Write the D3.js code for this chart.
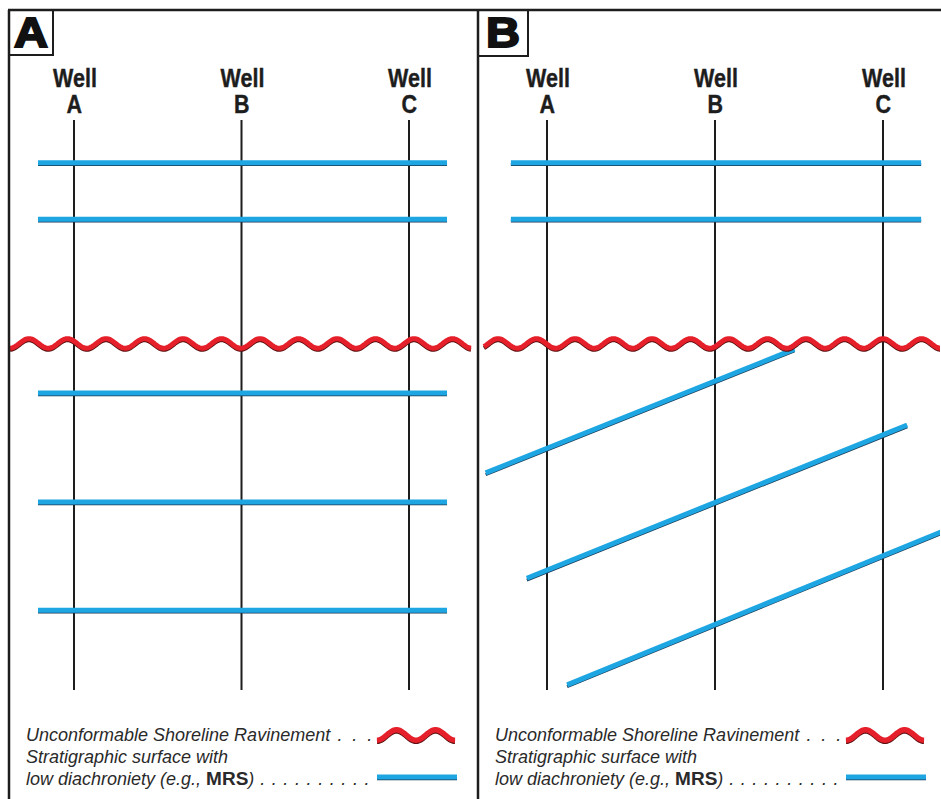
<!DOCTYPE html>
<html>
<head>
<meta charset="utf-8">
<script src="https://cdn.jsdelivr.net/npm/d3@7"></script>
<style>
  html, body { margin: 0; padding: 0; background: #fff; }
  svg { display: block; }
</style>
</head>
<body>
<div id="chart"></div>
<script>
// wells along the section (distance in arbitrary units)
const wells = ["A", "B", "C"];
const wellDistance = [0, 1, 2];
const wellDepthRange = [0, 100];

// panel A: all surfaces flat (depth units)
const flatSurfacesA = [7.5, 17.4, 47.9, 67.0, 86.0];
// panel B: flat surfaces above the unconformity
const flatSurfacesB = [7.5, 17.4];
const surfaceExtent = [-0.215, 2.227];
const unconformityDepth = 39.2;

// panel B: diachronous surfaces below the unconformity [x, depth]
const diachronousSurfaces = [
  [[-0.365, 61.9], [1.473, 40.2]],
  [[-0.12, 80.4], [2.144, 53.5]],
  [[0.12, 99.1], [2.36, 72.1]],
];

const panelLetters = ["A", "B"];
const legendLines = [
  "Unconformable Shoreline Ravinement",
  "Stratigraphic surface with",
  "low diachroniety (e.g., ",
];

const config = {
  width: 941,
  height: 799,
  panelLeft: [9, 478],
  wellRange: [[74, 409], [547, 883]],
  yRange: [120, 690],
  top: 10,
  blue: "#1ea6e2",
  red: "#e5202b",
  ink: "#1d1d1d",
};

const { width, height } = config;

const svg = d3.select("#chart")
  .append("svg")
  .attr("width", width)
  .attr("height", height);

const yScale = d3.scaleLinear().domain(wellDepthRange).range(config.yRange);

// wavy path generator (style only)
function wavePath(x0, x1, yc, amp, wavelength, crestX) {
  const pts = [];
  for (let x = x0; x <= x1; x += 1) {
    pts.push([x, yc - amp * Math.cos((2 * Math.PI * (x - crestX)) / wavelength)]);
  }
  return d3.line()(pts);
}

function blueLine(g, x1, y1, x2, y2) {
  g.append("line")
    .attr("x1", x1).attr("y1", y1 + 1.8).attr("x2", x2).attr("y2", y2 + 1.8)
    .attr("stroke", "#1a3a55").attr("stroke-width", 3);
  g.append("line")
    .attr("x1", x1).attr("y1", y1).attr("x2", x2).attr("y2", y2)
    .attr("stroke", config.blue).attr("stroke-width", 5);
}

function redWave(g, d, w = 5) {
  g.append("path").attr("d", d).attr("transform", "translate(0,1.6)")
    .attr("fill", "none").attr("stroke", "#5a1010").attr("stroke-width", w - 1);
  g.append("path").attr("d", d)
    .attr("fill", "none").attr("stroke", config.red).attr("stroke-width", w);
}

panelLetters.forEach((letter, i) => {
  const left = config.panelLeft[i];
  const right = i === 0 ? config.panelLeft[1] : width;
  const xScale = d3.scaleLinear().domain([0, 2]).range(config.wellRange[i]);

  svg.append("clipPath").attr("id", `clip${letter}`)
    .append("rect")
    .attr("x", left + 1).attr("y", config.top)
    .attr("width", right - left - 2).attr("height", height - config.top);

  const g = svg.append("g").attr("clip-path", `url(#clip${letter})`);

  // wells
  wells.forEach((w, j) => {
    const x = xScale(wellDistance[j]);
    g.append("line")
      .attr("x1", x).attr("x2", x)
      .attr("y1", yScale(wellDepthRange[0])).attr("y2", yScale(wellDepthRange[1]))
      .attr("stroke", config.ink).attr("stroke-width", 2);

    const lbl = svg.append("g").attr("transform", `translate(${x + 1},0) scale(0.86,1)`)
      .attr("font-family", "Liberation Sans, Arial, sans-serif")
      .attr("font-weight", "bold").attr("font-size", 25)
      .attr("text-anchor", "middle")
      .attr("fill", config.ink)
      .attr("stroke", config.ink).attr("stroke-width", 0.4);
    lbl.append("text").attr("x", 0).attr("y", 87).text("Well");
    lbl.append("text").attr("x", -1).attr("y", 113).text(w);
  });

  // flat surfaces
  const flats = i === 0 ? flatSurfacesA : flatSurfacesB;
  flats.forEach((d) => {
    blueLine(g, xScale(surfaceExtent[0]), yScale(d), xScale(surfaceExtent[1]), yScale(d));
  });

  // diachronous surfaces (panel B)
  if (i === 1) {
    diachronousSurfaces.forEach(([p1, p2]) => {
      blueLine(g, xScale(p1[0]), yScale(p1[1]), xScale(p2[0]), yScale(p2[1]));
    });
  }

  // unconformity
  const waveStart = i === 0 ? left + 1 : left + 6;
  const waveEnd = i === 0 ? right - 7 : width;
  redWave(g, wavePath(waveStart, waveEnd, yScale(unconformityDepth), 4.8, 38.5, left + 20));

  // legend
  const lx = left + 17;
  const legend = svg.append("g")
    .attr("font-family", "Liberation Sans, Arial, sans-serif")
    .attr("font-size", 18)
    .attr("font-style", "italic")
    .attr("fill", "#2a2a2a");
  const t1 = legend.append("text").attr("x", lx).attr("y", 741);
  t1.append("tspan").text(legendLines[0]);
  t1.append("tspan").attr("letter-spacing", 2.4).text(" . . .");
  legend.append("text").attr("x", lx).attr("y", 763).text(legendLines[1]);
  const t3 = legend.append("text").attr("x", lx).attr("y", 785);
  t3.append("tspan").text(legendLines[2]);
  t3.append("tspan").attr("font-style", "normal").attr("font-weight", "bold")
    .attr("font-size", 19).text("MRS");
  t3.append("tspan").text(")");
  t3.append("tspan").attr("letter-spacing", 0.8).text(" . . . . . . . . . .");

  const lgx0 = left + 368;
  const lgx1 = left + 446;
  redWave(svg, wavePath(lgx0, lgx1, 735, 5.2, 39, lgx0 + 19.5), 5.5);
  blueLine(svg, lgx0, 777, lgx1 + 2, 777);

  // letter box
  const box = svg.append("g");
  box.append("rect")
    .attr("x", left).attr("y", config.top)
    .attr("width", i === 0 ? 44 : 50).attr("height", i === 0 ? 45 : 46)
    .attr("fill", "#fff").attr("stroke", config.ink).attr("stroke-width", 2);
  box.append("text")
    .attr("transform", `translate(${left + (i === 0 ? 22 : 25)},47) scale(1.12,1)`)
    .attr("text-anchor", "middle")
    .attr("font-family", "Liberation Sans, Arial, sans-serif")
    .attr("font-weight", "bold").attr("font-size", 42)
    .attr("fill", "#111").attr("stroke", "#111").attr("stroke-width", 2)
    .text(letter);
});

// panel frame
svg.append("line")
  .attr("x1", 8).attr("x2", width).attr("y1", config.top).attr("y2", config.top)
  .attr("stroke", config.ink).attr("stroke-width", 2.5);
config.panelLeft.forEach((x) => {
  svg.append("line")
    .attr("x1", x).attr("x2", x).attr("y1", config.top).attr("y2", height)
    .attr("stroke", config.ink).attr("stroke-width", 2.5);
});
</script>
</body>
</html>
